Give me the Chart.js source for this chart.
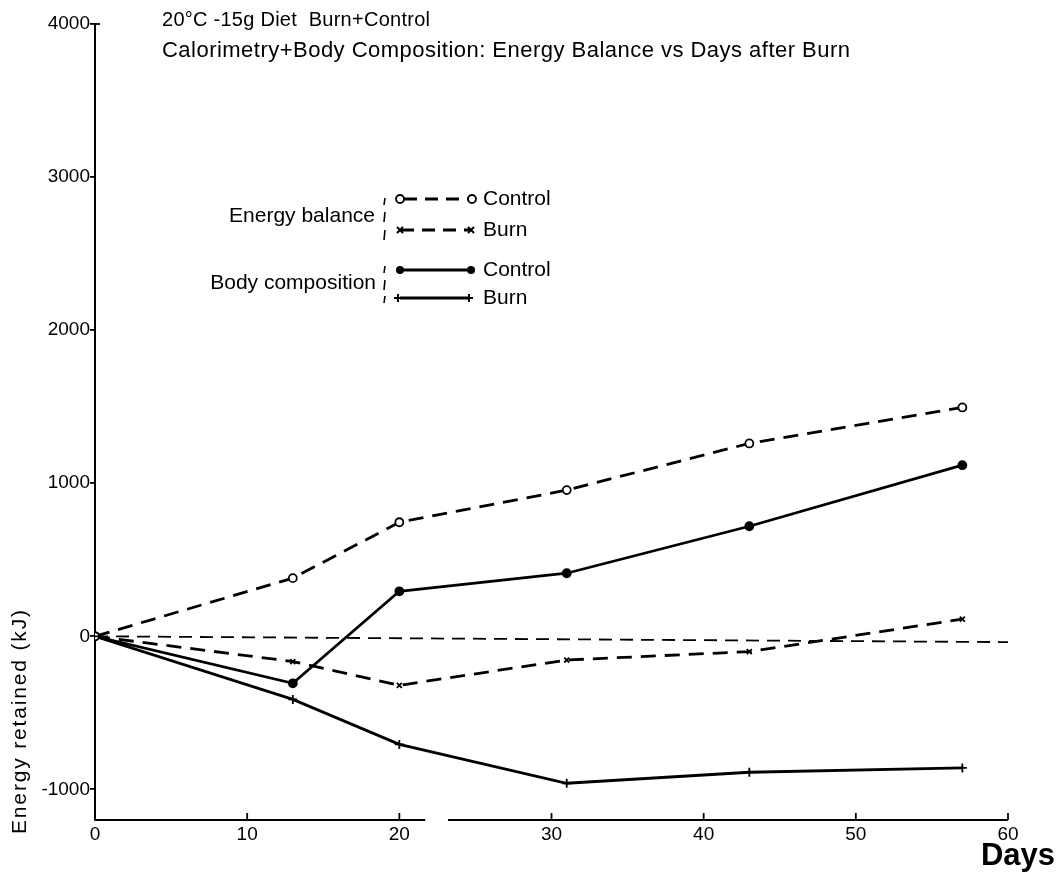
<!DOCTYPE html>
<html>
<head>
<meta charset="utf-8">
<script src="https://cdn.jsdelivr.net/npm/chart.js@4.4.0/dist/chart.umd.min.js"></script>
<style>
html,body{margin:0;padding:0;background:#fff;}
#wrap{position:relative;width:1060px;height:882px;}
</style>
</head>
<body>
<div id="wrap"><canvas id="c" width="1060" height="882"></canvas></div>
<script>
const days = [0, 13, 20, 31, 43, 57];
const ebControl = [0, 380, 745, 955, 1260, 1495];
const ebBurn = [0, -165, -320, -155, -100, 112];
const bcControl = [0, -307, 294, 412, 719, 1118];
const bcBurn = [0, -412, -706, -960, -888, -860];
const refDays = [0, 60];
const refValues = [0, -38];
const xTicks = [0, 10, 20, 30, 40, 50, 60];
const yTicks = [-1000, 0, 1000, 2000, 3000, 4000];
const titleLines = ["20\u00B0C -15g Diet  Burn+Control", "Calorimetry+Body Composition: Energy Balance vs Days after Burn"];
const axisTitleY = "Energy retained (kJ)";
const axisTitleX = "Days";
const legendGroups = ["Energy balance", "Body composition"];
const legendItems = ["Control", "Burn", "Control", "Burn"];

const FONT = "'Liberation Sans', Arial, sans-serif";
const pts = (xs, ys) => xs.map((x, i) => ({x: x, y: ys[i]}));

// draw text spread to a target width (letter spacing), left aligned at x
function fitText(ctx, text, x, y, target) {
  const w = ctx.measureText(text).width;
  const extra = text.length > 1 ? (target - w) / (text.length - 1) : 0;
  let cx = x;
  for (let i = 0; i < text.length; i++) {
    const ch = text[i];
    ctx.fillText(ch, cx, y);
    cx += ctx.measureText(ch).width + extra;
  }
}

function drawMarker(ctx, type, x, y) {
  ctx.save();
  ctx.strokeStyle = '#000'; ctx.fillStyle = '#000'; ctx.setLineDash([]);
  if (type === 'open') {
    ctx.lineWidth = 1.8; ctx.fillStyle = '#fff';
    ctx.beginPath(); ctx.arc(x, y, 4, 0, Math.PI * 2); ctx.fill(); ctx.stroke();
  } else if (type === 'dot') {
    ctx.beginPath(); ctx.arc(x, y, 4, 0, Math.PI * 2); ctx.fill();
  } else if (type === 'x') {
    ctx.lineWidth = 2;
    ctx.beginPath(); ctx.moveTo(x-3, y-3); ctx.lineTo(x+3, y+3); ctx.moveTo(x+3, y-3); ctx.lineTo(x-3, y+3); ctx.stroke();
  } else if (type === 'plus') {
    ctx.lineWidth = 2;
    ctx.beginPath(); ctx.moveTo(x-4, y); ctx.lineTo(x+4, y); ctx.moveTo(x, y-4); ctx.lineTo(x, y+4); ctx.stroke();
  }
  ctx.restore();
}

const decor = {
  id: 'decor',
  afterDraw(chart) {
    const ctx = chart.ctx;
    const xs = chart.scales.x;
    const ys = chart.scales.y;
    const a = chart.chartArea;
    ctx.save();
    // x axis line with a gap
    ctx.strokeStyle = '#000'; ctx.lineWidth = 2; ctx.setLineDash([]);
    const yb = a.bottom;
    ctx.beginPath();
    ctx.moveTo(xs.getPixelForValue(0), yb); ctx.lineTo(xs.getPixelForValue(21.7), yb);
    ctx.moveTo(xs.getPixelForValue(23.2), yb); ctx.lineTo(xs.getPixelForValue(60), yb);
    ctx.stroke();
    // x ticks pointing up
    ctx.lineWidth = 1.8;
    xTicks.forEach(v => {
      if (v === 0) return;
      const px = xs.getPixelForValue(v);
      ctx.beginPath(); ctx.moveTo(px, yb); ctx.lineTo(px, yb - 7); ctx.stroke();
    });
    // top tick pointing right
    const yTop = ys.getPixelForValue(4000);
    ctx.beginPath(); ctx.moveTo(a.left, yTop); ctx.lineTo(a.left + 5, yTop); ctx.stroke();
    // Y axis title
    ctx.fillStyle = '#000';
    ctx.font = '21px ' + FONT;
    ctx.translate(20, 722);
    ctx.rotate(-Math.PI / 2);
    ctx.textBaseline = 'middle'; ctx.textAlign = 'left';
    fitText(ctx, axisTitleY, -112, 0, 224);
    ctx.restore();

    ctx.save();
    ctx.fillStyle = '#000';
    // Days
    ctx.font = 'bold 31px ' + FONT;
    ctx.textAlign = 'right'; ctx.textBaseline = 'alphabetic';
    ctx.fillText(axisTitleX, 1055, 865);
    // titles
    ctx.textAlign = 'left'; ctx.textBaseline = 'middle';
    ctx.font = '20px ' + FONT;
    fitText(ctx, titleLines[0], 162, 20, 268);
    ctx.font = '22px ' + FONT;
    fitText(ctx, titleLines[1], 162, 51, 688);
    // legend
    ctx.font = '21px ' + FONT;
    ctx.textAlign = 'right';
    ctx.fillText(legendGroups[0], 375, 216);
    ctx.fillText(legendGroups[1], 376, 283);
    ctx.textAlign = 'left';
    ctx.fillText(legendItems[0], 483, 199);
    ctx.fillText(legendItems[1], 483, 230);
    ctx.fillText(legendItems[2], 483, 270);
    ctx.fillText(legendItems[3], 483, 298);
    // braces
    ctx.strokeStyle = '#000'; ctx.lineWidth = 1.6;
    [[198, 205], [212, 222], [230, 240], [266, 273], [280, 290], [296, 303]].forEach(s => {
      ctx.beginPath(); ctx.moveTo(385, s[0]); ctx.lineTo(384, s[1]); ctx.stroke();
    });
    // legend lines
    ctx.lineWidth = 2.8;
    ctx.setLineDash([13, 8]);
    ctx.beginPath(); ctx.moveTo(404, 199); ctx.lineTo(468, 199); ctx.stroke();
    ctx.beginPath(); ctx.moveTo(401, 230); ctx.lineTo(470, 230); ctx.stroke();
    ctx.setLineDash([]);
    ctx.beginPath(); ctx.moveTo(400, 270); ctx.lineTo(470, 270); ctx.stroke();
    ctx.beginPath(); ctx.moveTo(400, 298); ctx.lineTo(468, 298); ctx.stroke();
    drawMarker(ctx, 'open', 400, 199); drawMarker(ctx, 'open', 472, 199);
    drawMarker(ctx, 'x', 400, 230); drawMarker(ctx, 'x', 471, 230);
    drawMarker(ctx, 'dot', 400, 270); drawMarker(ctx, 'dot', 471, 270);
    drawMarker(ctx, 'plus', 398, 298); drawMarker(ctx, 'plus', 469, 298);
    ctx.restore();
  }
};

const ds = (label, ys, dash, style, radius, fill) => ({
  label: label,
  data: pts(days, ys),
  showLine: true,
  borderColor: '#000',
  borderWidth: 2.8,
  borderDash: dash,
  backgroundColor: fill,
  pointStyle: style,
  pointRadius: radius,
  pointBorderWidth: 1.8,
  pointBorderColor: '#000',
  pointBackgroundColor: fill,
  tension: 0
});

new Chart(document.getElementById('c'), {
  type: 'scatter',
  data: {
    datasets: [
      {label: 'ref', data: pts(refDays, refValues), showLine: true, borderColor: '#000', borderWidth: 1.8, borderDash: [13, 8], pointRadius: 0},
      ds('Energy balance Control', ebControl, [15, 9], 'circle', 4, '#fff'),
      ds('Energy balance Burn', ebBurn, [15, 9], 'crossRot', 3.5, '#000'),
      ds('Body composition Control', bcControl, [], 'circle', 4, '#000'),
      ds('Body composition Burn', bcBurn, [], 'cross', 4.5, '#000')
    ]
  },
  options: {
    responsive: false,
    animation: false,
    events: [],
    layout: {padding: {left: 0, top: 24, right: 52, bottom: 0}},
    plugins: {legend: {display: false}, tooltip: {enabled: false}, title: {display: false}},
    scales: {
      x: {
        type: 'linear', min: 0, max: 60,
        afterBuildTicks: s => { s.ticks = xTicks.map(v => ({value: v})); },
        afterFit: s => { s.height = 62; },
        grid: {display: false, drawTicks: false},
        border: {display: false},
        ticks: {color: '#000', font: {family: FONT, size: 19}, padding: 3, maxRotation: 0, callback: v => String(v)}
      },
      y: {
        type: 'linear', min: -1200, max: 4000,
        afterBuildTicks: s => { s.ticks = yTicks.map(v => ({value: v})); },
        afterFit: s => { s.width = 95; },
        grid: {display: true, drawOnChartArea: false, drawTicks: true, tickLength: 5, color: '#000', lineWidth: 1.8},
        border: {display: true, color: '#000', width: 2},
        ticks: {color: '#000', font: {family: FONT, size: 19}, padding: 0, callback: v => String(v)}
      }
    }
  },
  plugins: [decor]
});
</script>
</body>
</html>
